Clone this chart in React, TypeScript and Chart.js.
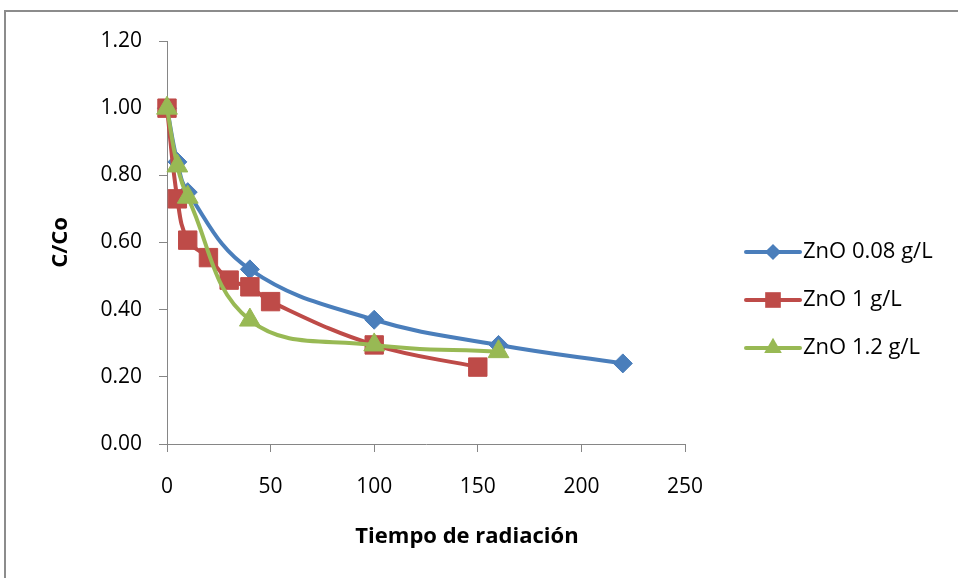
import React, { useEffect, useRef } from "react";
import { Chart, registerables } from "chart.js";

Chart.register(...registerables);

const seriesNames = ["ZnO 0.08 g/L", "ZnO 1 g/L", "ZnO 1.2 g/L"];
const blueX = [0, 5, 10, 40, 100, 160, 220];
const blueY = [1.0, 0.84, 0.75, 0.52, 0.37, 0.295, 0.24];
const redX = [0, 5, 10, 20, 30, 40, 50, 100, 150];
const redY = [1.0, 0.73, 0.607, 0.555, 0.488, 0.468, 0.424, 0.295, 0.229];
const greenX = [0, 5, 10, 40, 100, 160];
const greenY = [1.0, 0.828, 0.735, 0.369, 0.295, 0.275];
const xTitle = "Tiempo de radiación";
const yTitle = "C/Co";

const FONT = "'Open Sans', sans-serif";
const AXIS = "#868686";

const pts = (xs: number[], ys: number[]) => xs.map((x, i) => ({ x, y: ys[i] }));

const framePlugin = {
  id: "frame",
  beforeDraw(chart: any) {
    const ctx = chart.ctx;
    ctx.save();
    ctx.fillStyle = "#ffffff";
    ctx.fillRect(0, 0, chart.width, chart.height);
    ctx.strokeStyle = "#8c8c8c";
    ctx.lineWidth = 2;
    ctx.strokeRect(5, 11, chart.width + 20, chart.height + 20);
    ctx.restore();
  },
};

const titlesPlugin = {
  id: "titles",
  afterDraw(chart: any) {
    const ctx = chart.ctx;
    const a = chart.chartArea;
    ctx.save();
    ctx.fillStyle = "#000";
    ctx.font = `bold 22px ${FONT}`;
    ctx.textAlign = "center";
    ctx.textBaseline = "middle";
    ctx.fillText(xTitle, a.left + (a.right - a.left) / 2 + 41, 537);
    ctx.translate(61, (a.top + a.bottom) / 2);
    ctx.rotate(-Math.PI / 2);
    ctx.fillText(yTitle, 0, 0);
    ctx.restore();
  },
};

function marker(ctx: CanvasRenderingContext2D, style: string, r: number, x: number, y: number) {
  ctx.beginPath();
  if (style === "rectRot") {
    ctx.moveTo(x - r, y);
    ctx.lineTo(x, y - r);
    ctx.lineTo(x + r, y);
    ctx.lineTo(x, y + r);
  } else if (style === "rect") {
    const s = r * Math.SQRT1_2;
    ctx.rect(x - s, y - s, 2 * s, 2 * s);
  } else {
    const h = r;
    ctx.moveTo(x, y - h);
    ctx.lineTo(x + h * 0.866, y + h * 0.5);
    ctx.lineTo(x - h * 0.866, y + h * 0.5);
  }
  ctx.closePath();
  ctx.fill();
}

const legendPlugin = {
  id: "customLegend",
  afterDraw(chart: any) {
    const ctx = chart.ctx;
    const x0 = 746;
    const lineLen = 54;
    const rows = [252, 300, 348];
    chart.data.datasets.forEach((ds: any, i: number) => {
      const y = rows[i];
      ctx.save();
      ctx.strokeStyle = ds.borderColor;
      ctx.lineWidth = ds.borderWidth;
      ctx.lineCap = "round";
      ctx.beginPath();
      ctx.moveTo(x0, y);
      ctx.lineTo(x0 + lineLen, y);
      ctx.stroke();
      ctx.fillStyle = ds.pointBackgroundColor;
      marker(ctx, ds.pointStyle, ds.pointRadius * 0.85, x0 + lineLen / 2, y);
      ctx.restore();
      ctx.save();
      ctx.fillStyle = "#000";
      ctx.font = `22px ${FONT}`;
      ctx.textAlign = "left";
      ctx.textBaseline = "middle";
      ctx.fillText(ds.label, x0 + lineLen + 3, y);
      ctx.restore();
    });
  },
};

export default function App() {
  const ref = useRef<HTMLCanvasElement>(null);
  useEffect(() => {
    document.body.style.margin = "0";
    const canvas = ref.current!;
    const mk = (i: number, xs: number[], ys: number[], color: string, style: string, r: number, order: number) => ({
      label: seriesNames[i],
      data: pts(xs, ys),
      borderColor: color,
      backgroundColor: color,
      pointBackgroundColor: color,
      pointBorderColor: color,
      borderWidth: 4,
      pointStyle: style,
      pointRadius: r,
      pointBorderWidth: 1,
      tension: 0.4,
      fill: false,
      clip: false,
      order,
    });
    const chart = new Chart(canvas, {
      type: "line",
      data: {
        datasets: [
          mk(0, blueX, blueY, "#4A7EBB", "rectRot", 9.5, 2),
          mk(1, redX, redY, "#BE4B48", "rect", 13, 1),
          mk(2, greenX, greenY, "#98B954", "triangle", 12, 0),
        ],
      },
      options: {
        animation: false,
        responsive: false,
        layout: { padding: { left: 0, top: 41, right: 273, bottom: 0 } },
        plugins: { legend: { display: false }, tooltip: { enabled: false } },
        scales: {
          x: {
            type: "linear",
            min: 0,
            max: 250,
            ticks: { stepSize: 50, color: "#000", font: { family: FONT, size: 21 }, padding: 22 },
            grid: { drawOnChartArea: false, drawTicks: true, tickLength: 8, color: AXIS },
            border: { color: AXIS, width: 1 },
            afterFit(scale: any) {
              scale.height = 134;
            },
          },
          y: {
            min: 0,
            max: 1.2,
            ticks: {
              stepSize: 0.2,
              color: "#000",
              font: { family: FONT, size: 21 },
              padding: 17,
              callback: (v: any) => Number(v).toFixed(2),
            },
            grid: { drawOnChartArea: false, drawTicks: true, tickLength: 8, color: AXIS },
            border: { color: AXIS, width: 1 },
            afterFit(scale: any) {
              scale.width = 167;
            },
          },
        },
      },
      plugins: [framePlugin, titlesPlugin, legendPlugin],
    } as any);
    return () => chart.destroy();
  }, []);
  return <canvas ref={ref} width={958} height={578} style={{ display: "block" }} />;
}
